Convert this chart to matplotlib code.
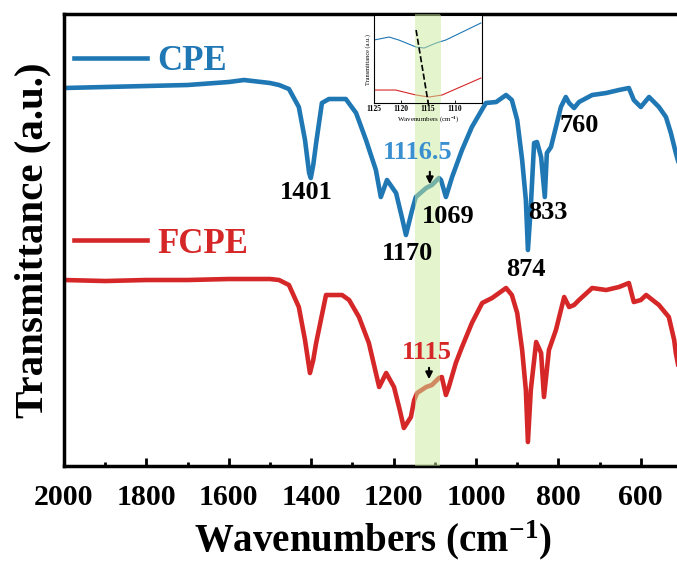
import numpy as np
import matplotlib
matplotlib.use("Agg")
import matplotlib.pyplot as plt
from matplotlib.ticker import MultipleLocator

# spectra (a.u., offset curves)
cpe_wn = [2000, 1900, 1800, 1700, 1600, 1563, 1500, 1478, 1454, 1430,
          1415, 1405, 1401, 1395, 1388, 1374, 1357, 1316, 1291, 1267,
          1243, 1231, 1216, 1194, 1180, 1170, 1155, 1146, 1121, 1107,
          1090, 1085, 1073, 1058, 1034, 1010, 976, 951, 927, 913,
          900, 888, 879, 874, 867, 859, 852, 842, 833, 828,
          818, 806, 794, 782, 774, 762, 750, 718, 684, 653,
          629, 617, 600, 580, 556, 539, 527, 515, 500]
cpe_t = [378, 379, 380, 381, 384, 386, 383, 381, 377, 359,
         326, 293, 288, 301, 323, 363, 367, 367, 353, 326,
         296, 269, 286, 273, 249, 231, 256, 269, 278, 281,
         288, 286, 269, 289, 316, 339, 363, 364, 371, 366,
         346, 306, 266, 216, 259, 323, 324, 309, 269, 313,
         319, 339, 359, 369, 363, 358, 364, 371, 373, 376,
         378, 366, 359, 369, 359, 349, 333, 313, 291]

fcpe_wn = [2000, 1900, 1800, 1700, 1600, 1500, 1478, 1454, 1430, 1415,
           1403, 1395, 1388, 1364, 1325, 1308, 1284, 1260, 1235, 1218,
           1199, 1185, 1175, 1158, 1150, 1143, 1121, 1107, 1090, 1083,
           1073, 1066, 1049, 1034, 1010, 985, 961, 927, 913, 900,
           888, 879, 874, 867, 854, 842, 835, 823, 806, 786,
           774, 762, 750, 718, 684, 653, 629, 617, 600, 587,
           556, 532, 519, 515, 500]
fcpe_t = [186, 185, 186, 186, 187, 187, 186, 181, 159, 126,
          93, 106, 123, 171, 171, 166, 149, 123, 79, 93,
          79, 56, 38, 49, 66, 73, 79, 81, 88, 89,
          71, 79, 103, 119, 143, 163, 168, 178, 171, 153,
          116, 76, 24, 76, 124, 113, 69, 116, 136, 169,
          159, 161, 166, 178, 176, 179, 183, 164, 166, 171,
          161, 149, 126, 113, 81]

# inset (zoom around 1115 cm-1)
ins_cpe_wn = [1125, 1122.2, 1120.4, 1117.2, 1115.7, 1113.5, 1111.7, 1105.2]
ins_cpe_t = [63, 66, 63, 56, 55, 60, 63, 80]
ins_fcpe_wn = [1125, 1121, 1117.2, 1114.8, 1112.4, 1105.2]
ins_fcpe_t = [13, 13, 8, 6, 8, 25]

band = (1148, 1087)
ins_band = (1117.4, 1112.6)

blue = '#1f77b4'
red = '#d62728'
green = '#cbeb9b'

plt.rcParams['font.family'] = ['Liberation Serif', 'DejaVu Serif']
plt.rcParams['font.weight'] = 'bold'
plt.rcParams['mathtext.fontset'] = 'custom'
plt.rcParams['mathtext.rm'] = 'Liberation Serif:bold'
plt.rcParams['mathtext.default'] = 'rm'

fig = plt.figure(figsize=(6.77, 5.67), dpi=100)
ax = fig.add_axes([0.0945, 0.1781, 0.9129, 0.7972])

l1, = ax.plot(cpe_wn, cpe_t, color=blue, lw=3.3, label='CPE', zorder=2)
l2, = ax.plot(fcpe_wn, fcpe_t, color=red, lw=3.3, label='FCPE', zorder=2)
ax.axvspan(band[0], band[1], color=green, alpha=0.5, lw=0, zorder=3)

ax.set_xlim(2000, 500)
ax.set_ylim(0, 452)
ax.set_yticks([])
ax.xaxis.set_major_locator(MultipleLocator(200))
ax.xaxis.set_minor_locator(MultipleLocator(100))
ax.tick_params(axis='x', which='major', direction='in', length=6, width=2,
               labelsize=21.5, pad=13)
ax.tick_params(axis='x', which='minor', direction='in', length=3, width=2)
for s in ax.spines.values():
    s.set_linewidth(2.5)

ax.set_xlabel('Wavenumbers (cm$^{-1}$)', fontsize=28, fontweight='bold', labelpad=5)
ax.set_ylabel('Transmittance (a.u.)', fontsize=29.5, fontweight='bold', labelpad=9)

leg1 = ax.legend(handles=[l1], loc='center left', bbox_to_anchor=(0.0, 0.895),
                 frameon=False, fontsize=25, handlelength=2.1, handletextpad=0.3,
                 borderpad=0, borderaxespad=0.3, labelcolor='linecolor')
ax.add_artist(leg1)
ax.legend(handles=[l2], loc='center left', bbox_to_anchor=(0.0, 0.491),
          frameon=False, fontsize=25, handlelength=2.1, handletextpad=0.3,
          borderpad=0, borderaxespad=0.3, labelcolor='linecolor')

# peak labels
peak_txt = ['1401', '1170', '1069', '874', '833', '760']
peak_pos = [(1413, 274), (1167, 213), (1068, 250), (879, 197), (825, 254), (750, 341)]
for t, (x, y) in zip(peak_txt, peak_pos):
    ax.text(x, y, t, fontsize=19, fontweight='bold', ha='center', va='center', zorder=5)

ax.text(1141, 314, '1116.5', fontsize=19, fontweight='bold', color='#3a8fd0',
        ha='center', va='center', zorder=5)
ax.text(1119, 114, '1115', fontsize=19, fontweight='bold', color=red,
        ha='center', va='center', zorder=5)
ax.annotate('', xy=(1112, 279), xytext=(1112, 297),
            arrowprops=dict(arrowstyle='-|>', color='k', lw=1.5, mutation_scale=10), zorder=5)
ax.annotate('', xy=(1114, 84), xytext=(1114, 101),
            arrowprops=dict(arrowstyle='-|>', color='k', lw=1.5, mutation_scale=10), zorder=5)

# inset
ins = fig.add_axes([0.5524, 0.8183, 0.1595, 0.1552])
ins.set_facecolor('white')
ins.plot(ins_cpe_wn, ins_cpe_t, color=blue, lw=0.8, zorder=2)
ins.plot(ins_fcpe_wn, ins_fcpe_t, color=red, lw=0.8, zorder=2)
ins.axvspan(ins_band[0], ins_band[1], color=green, alpha=0.5, lw=0, zorder=3)
ins.plot([1117.2, 1114.8], [73, -5], 'k--', lw=1.2, clip_on=False, zorder=4)
ins.set_xlim(1125, 1105)
ins.set_ylim(0, 88)
ins.set_yticks([])
ins.set_xticks([1125, 1120, 1115, 1110])
ins.tick_params(axis='x', direction='in', length=2, width=0.6, labelsize=5.5, pad=1.5)
for s in ins.spines.values():
    s.set_linewidth(0.8)
ins.set_xlabel('Wavenumbers (cm$^{-1}$)', fontsize=5, fontweight='normal', labelpad=1)
ins.set_ylabel('Transmittance (a.u.)', fontsize=4.5, fontweight='normal', labelpad=2)

fig.savefig('out.png', dpi=100)
